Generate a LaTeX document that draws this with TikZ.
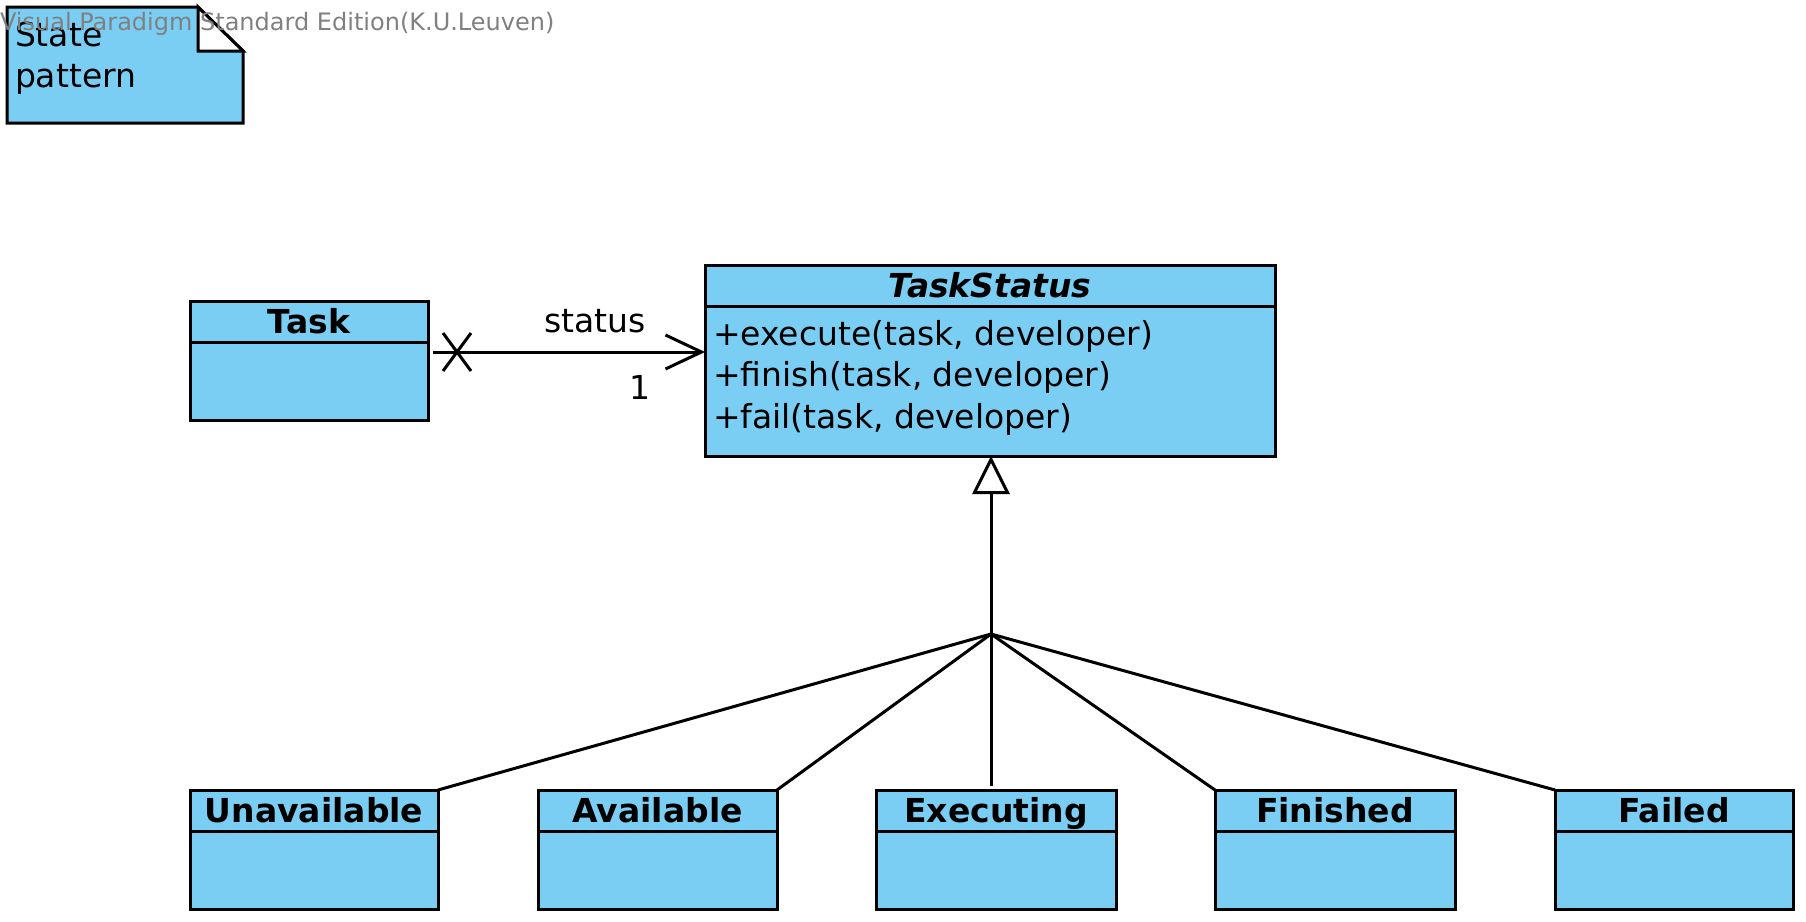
\documentclass[tikz,border=0pt]{standalone}
\usepackage{fontspec}
\setmainfont{DejaVu Sans}
\usepackage{tikz}
\usetikzlibrary{arrows.meta, positioning, shapes.misc}
\definecolor{umlblue}{RGB}{122,206,244}
\definecolor{vpgray}{RGB}{128,128,128}
\newcommand{\umlsize}{\fontsize{33pt}{41.5pt}\selectfont}

\begin{document}
\begin{tikzpicture}[
    x=1pt, y=-1pt,
    node distance=0pt,
    every node/.style={font=\umlsize, outer sep=0pt},
    classhead/.style={draw, fill=umlblue, line width=3pt, anchor=north west, minimum width=#1, minimum height=41pt, inner sep=0pt, text height=24pt, text depth=0pt, font=\umlsize\bfseries},
    classbody/.style={draw, fill=umlblue, line width=3pt, minimum width=#1, minimum height=78pt, inner sep=0pt},
    assoc/.style={line width=3pt, -{Straight Barb[length=36pt, width=34pt]}},
    gen/.style={line width=3pt}
]
\useasboundingbox (0,0) rectangle (1806,921);

% Note
\draw [line width=3pt, fill=umlblue] (7,7) -- (198,7) -- (243,51) -- (243,123) -- (7,123) -- cycle;
\draw [line width=3pt, fill=white] (198,7) -- (198,51) -- (243,51) -- cycle;
\node (notetext) [anchor=north west, align=left, inner sep=0pt] at (15,22) {State\\pattern};
\node (vpmark) [anchor=base west, inner sep=0pt, text=vpgray, font=\fontsize{24pt}{28pt}\selectfont] at (0,30) {Visual Paradigm Standard Edition(K.U.Leuven)};

% Context and state
\node (task) [classhead=238] at (190,301) {Task};
\node (taskbody) [classbody=238, below=of task] {};
\node (status) [classhead=570, font=\umlsize\bfseries\itshape] at (705,265) {TaskStatus};
\node (statusbody) [classbody=570, minimum height=150pt, below=of status] {};
\node (statusops) [anchor=north west, align=left, inner sep=0pt] at (713,320) {+execute(task, developer)\\+finish(task, developer)\\+fail(task, developer)};

% Concrete states
\node (unavail) [classhead=248] at (190,790) {Unavailable};
\node (unavailbody) [classbody=248, below=of unavail] {};
\node (avail) [classhead=239] at (538,790) {Available};
\node (availbody) [classbody=239, below=of avail] {};
\node (executing) [classhead=240] at (876,790) {Executing};
\node (executingbody) [classbody=240, below=of executing] {};
\node (finished) [classhead=240] at (1215,790) {Finished};
\node (finishedbody) [classbody=240, below=of finished] {};
\node (failed) [classhead=238] at (1555,790) {Failed};
\node (failedbody) [classbody=238, below=of failed] {};

% Association
\coordinate (assocstart) at (433,352);
\draw [assoc] (assocstart) -- (assocstart -| statusbody.west);
\node (nonav) [draw, cross out, line width=3pt, minimum width=28pt, minimum height=38pt, inner sep=0pt] at (457,352) {};
\node (rolename) at (595,321) {status};
\node (mult) at (640,387) {1};

% Generalization
\coordinate (genjoin) at (991,634);
\draw [gen, -{Triangle[open, length=38pt, width=37pt]}] (genjoin) -- (genjoin |- statusbody.south);
\draw [gen] (unavail.north east) -- (genjoin);
\draw [gen] (avail.north east) -- (genjoin);
\draw [gen] ([yshift=4pt]genjoin |- executing.north) -- (genjoin);
\draw [gen] (finished.north west) -- (genjoin);
\draw [gen] (failed.north west) -- (genjoin);

\end{tikzpicture}
\end{document}
